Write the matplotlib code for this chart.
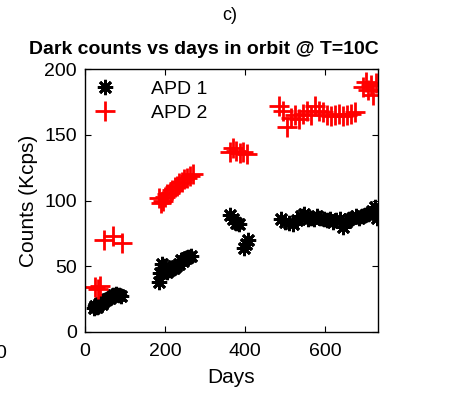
import numpy as np
import matplotlib.pyplot as plt

plt.rcParams['font.family'] = ['Liberation Sans', 'DejaVu Sans']

# APD 1 (black asterisks)
apd1_days = [22, 26, 30, 34, 38, 42, 46, 50, 56, 62, 70, 78, 84, 90,
             185, 188, 192, 196, 200, 205, 210, 216, 222, 228, 234, 240, 246, 252, 258, 264,
             362, 370, 378, 384, 396, 402, 406,
             490, 500, 510, 520, 530, 540, 548, 556, 564, 572, 580, 588, 596, 604, 612,
             620, 628, 636, 644, 652, 660, 668, 676, 684, 692, 700, 708, 716, 724, 730]
apd1_counts = [18, 20, 19, 21, 22, 21, 23, 24, 25, 26, 28, 29, 28, 27,
               38, 45, 52, 48, 50, 46, 47, 48, 49, 50, 52, 55, 54, 56, 57, 58,
               89, 86, 83, 82, 64, 67, 70,
               86, 84, 83, 82, 85, 88, 90, 86, 87, 86, 88, 87, 86, 85, 86,
               84, 85, 86, 80, 84, 86, 87, 88, 87, 88, 89, 90, 92, 95, 87]

# APD 2 (red plus)
apd2_days = [25, 32, 38,
             48, 70, 92,
             185, 190, 195, 200, 206, 212, 218, 224, 230, 236, 242, 248, 254, 262, 270,
             362, 370, 378, 386, 394, 404,
             485, 495, 505, 515, 525, 535, 545, 555, 565, 575, 585, 595, 605, 615,
             625, 635, 645, 655, 665, 675,
             695, 702, 708, 714, 720, 726]
apd2_counts = [34, 33, 35,
               70, 73, 68,
               102, 98, 100, 103, 105, 106, 108, 110, 111, 113, 114, 116, 117, 119, 120,
               137, 140, 138, 136, 137, 135,
               172, 168, 156, 163, 165, 162, 166, 168, 165, 172, 168, 167, 165, 164,
               165, 166, 164, 165, 166, 167,
               186, 190, 184, 188, 180, 189]

xticks = [0, 200, 400, 600]
yticks = [0, 50, 100, 150, 200]

fig = plt.figure(figsize=(4.49, 3.96), dpi=100)
ax = fig.add_axes([85/449, 64/396, 293/449, 263/396])

ax.plot(apd1_days, apd1_counts, linestyle='none', marker=(8, 2, 0),
        markersize=11, markeredgewidth=2, color='black', label='APD 1')
ax.plot(apd2_days, apd2_counts, linestyle='none', marker='+',
        markersize=14, markeredgewidth=2, color='red', label='APD 2')

ax.set_xlim(0, 732)
ax.set_ylim(0, 200)
ax.set_xticks(xticks)
ax.set_yticks(yticks)
ax.tick_params(direction='in', top=True, right=True, length=4, labelsize=14)
ax.tick_params(axis='x', pad=8)
ax.tick_params(axis='y', pad=6)
for s in ax.spines.values():
    s.set_linewidth(1)

ax.set_xlabel('Days', fontsize=15, labelpad=6)
ax.set_ylabel('Counts (Kcps)', fontsize=15, labelpad=4)

fig.text(204/449, 1 - 50/396, 'Dark counts vs days in orbit @ T=10C',
         ha='center', va='center', fontsize=14, fontweight='bold')

ax.legend(loc='upper left', frameon=False, fontsize=14, handlelength=0.9,
          handletextpad=1.9, borderaxespad=0.2, labelspacing=0.3)

fig.text(230/449, 1 - 15/396, 'c)', ha='center', va='center', fontsize=13)
fig.text(0.002, 1 - 354/396, '0', ha='center', va='center', fontsize=14)

fig.savefig('out.png', dpi=100)
